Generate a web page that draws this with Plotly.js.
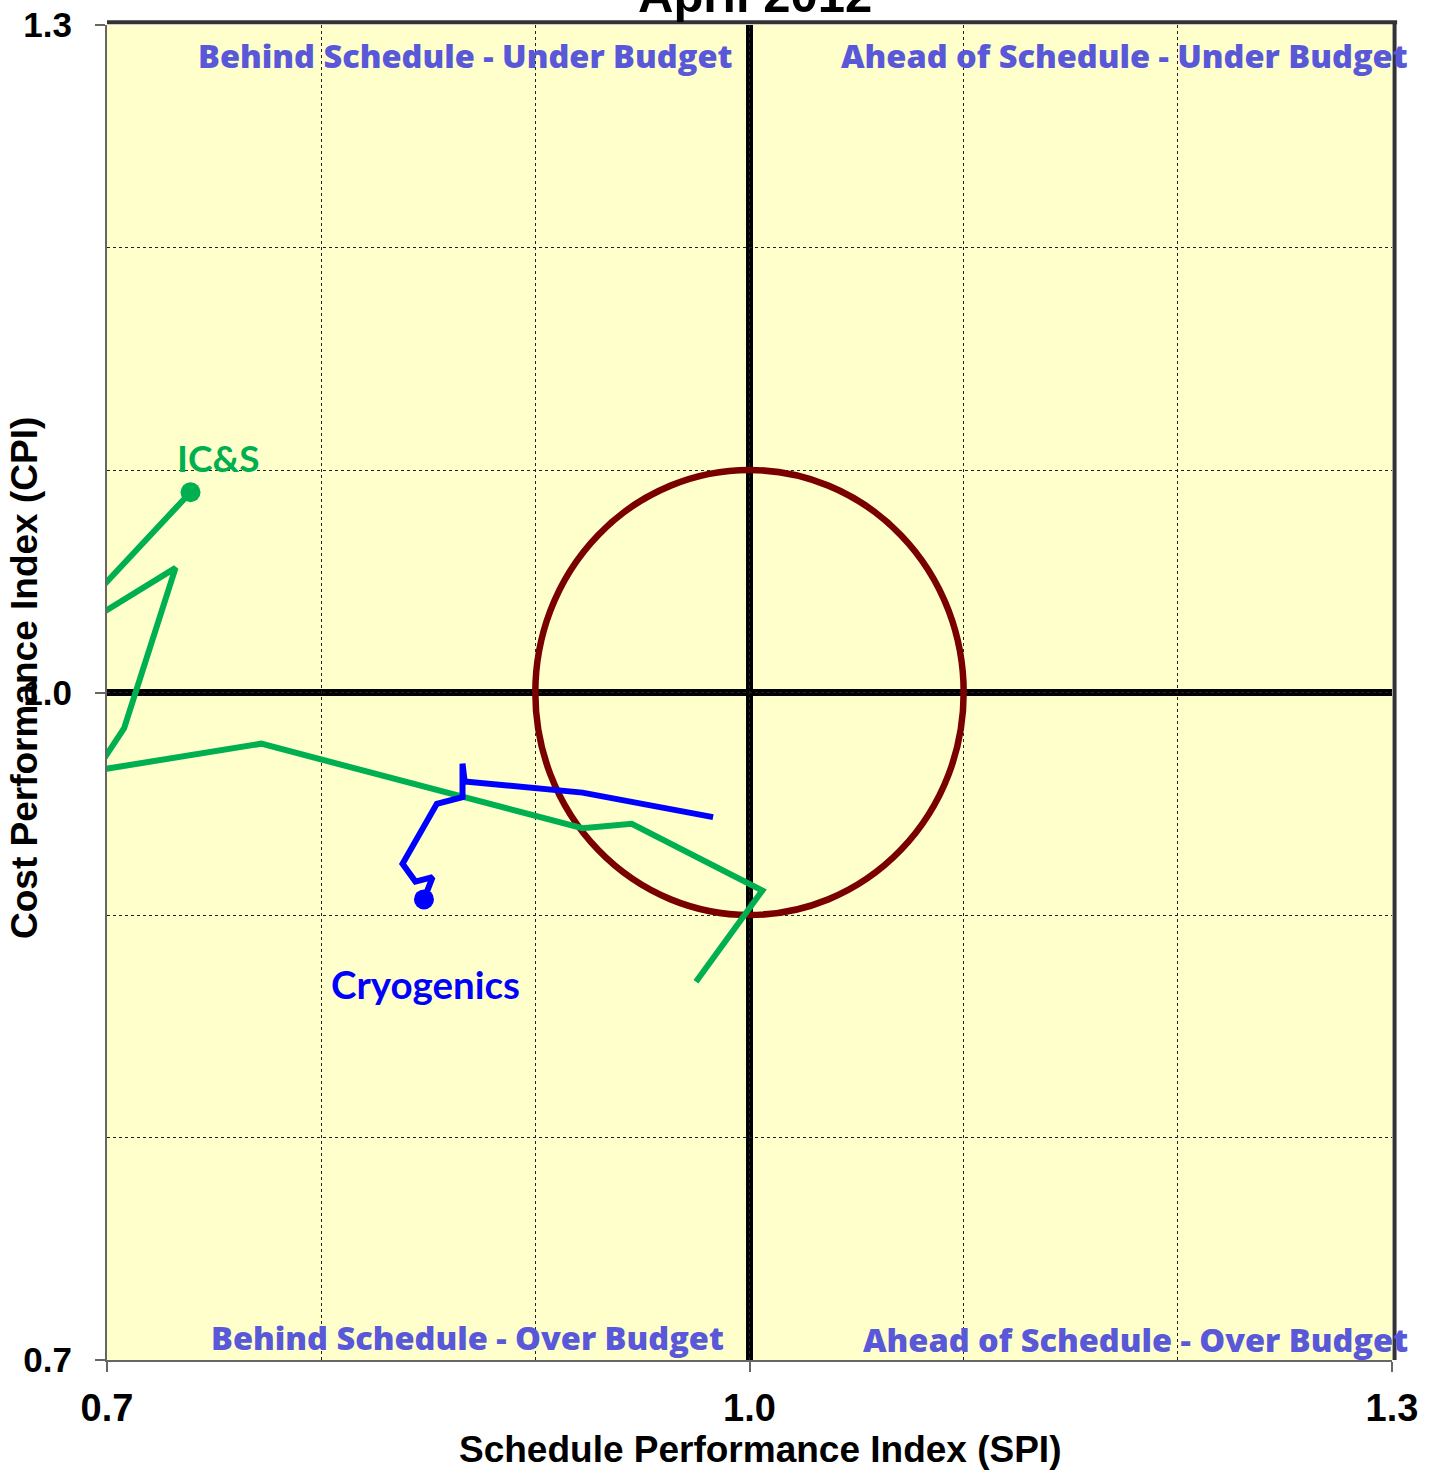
<!DOCTYPE html>
<html>
<head>
<meta charset="utf-8">
<script src="https://cdn.plot.ly/plotly-3.0.1.min.js"></script>
<style>html,body{margin:0;padding:0;background:#fff;}#chart{width:1432px;height:1474px;}</style>
</head>
<body>
<div id="chart"></div>
<script>
// IC&S series (SPI, CPI), oldest to latest
const icsSPI = [0.975, 1.006, 0.945, 0.922, 0.772, 0.695, 0.708, 0.732, 0.671, 0.739];
const icsCPI = [0.870, 0.911, 0.941, 0.939, 0.977, 0.965, 0.984, 1.056, 1.020, 1.090];
// Cryogenics series (SPI, CPI), oldest to latest
const cryoSPI = [0.983, 0.922, 0.867, 0.866, 0.866, 0.854, 0.838, 0.844, 0.852, 0.848];
const cryoCPI = [0.944, 0.955, 0.960, 0.968, 0.953, 0.950, 0.923, 0.915, 0.917, 0.907];
const seriesNames = ["IC&S", "Cryogenics"];
const tickVals = [0.7, 1.0, 1.3];
const tickText = ["0.7", "1.0", "1.3"];
const quadrantLabels = ["Behind Schedule - Under Budget", "Ahead of Schedule - Under Budget",
                        "Behind Schedule - Over Budget", "Ahead of Schedule - Over Budget"];
const chartTitle = "April 2012";
const xTitle = "Schedule Performance Index (SPI)";
const yTitle = "Cost Performance Index (CPI)";

const GREEN = "#00B050", BLUE = "#0000FF", MAROON = "#7A0000", QCOL = "#5858D8";
const FAM = "Liberation Sans, Arial, sans-serif";

const traces = [
  {x: icsSPI, y: icsCPI, mode: "lines", line: {color: GREEN, width: 6}, name: seriesNames[0]},
  {x: icsSPI.slice(-1), y: icsCPI.slice(-1), mode: "markers", marker: {color: GREEN, size: 20}, showlegend: false},
  {x: cryoSPI, y: cryoCPI, mode: "lines", line: {color: BLUE, width: 6}, name: seriesNames[1]},
  {x: cryoSPI.slice(-1), y: cryoCPI.slice(-1), mode: "markers", marker: {color: BLUE, size: 20}, showlegend: false}
];

function axis(fs) {
  return {
    range: [0.7, 1.3], tickvals: tickVals, ticktext: tickText, ticks: "outside",
    ticklen: 10, tickwidth: 2, tickcolor: "#666",
    tickfont: {family: FAM, size: fs, color: "#000", weight: "bold"},
    showgrid: true, gridcolor: "#222", griddash: "dot", gridwidth: 1,
    minor: {dtick: 0.1, tick0: 0.7, showgrid: true, gridcolor: "#222", griddash: "dot", gridwidth: 1, ticks: ""},
    showline: true, linecolor: "#666", linewidth: 2, zeroline: false, fixedrange: true
  };
}
const xa = axis(38); xa.ticklabelstandoff = 3;
const ya = axis(35); ya.ticklabelstandoff = 16;

const qfont = {family: "Open Sans, sans-serif", size: 32.5, color: QCOL, weight: 800};
const annotations = [
  {text: quadrantLabels[0], x: 0.2786, y: 0.9775, font: qfont},
  {text: quadrantLabels[1], x: 0.7922, y: 0.9775, font: qfont},
  {text: quadrantLabels[2], x: 0.2809, y: 0.0172, font: qfont},
  {text: quadrantLabels[3], x: 0.8000, y: 0.0157, font: qfont},
  {text: seriesNames[0], x: 0.0864, y: 0.6757, font: {family: "Lato, sans-serif", size: 37, color: GREEN, weight: "bold"}},
  {text: seriesNames[1], x: 0.2482, y: 0.2816, font: {family: "Lato, sans-serif", size: 38.5, color: BLUE, weight: "bold"}},
  {text: yTitle, x: -0.0638, y: 0.5109, textangle: -90, font: {family: FAM, size: 37, color: "#000", weight: "bold"}},
  {text: xTitle, x: 0.5082, y: -0.0674, font: {family: FAM, size: 37, color: "#000", weight: "bold"}},
  {text: chartTitle, x: 0.504, y: 1.0225, font: {family: FAM, size: 49, color: "#000", weight: "bold"}}
].map(a => Object.assign({xref: "paper", yref: "paper", showarrow: false, xanchor: "center", yanchor: "middle"}, a));

const shapes = [
  {type: "circle", xref: "x", yref: "y", x0: 0.9, x1: 1.1, y0: 0.9, y1: 1.1, line: {color: MAROON, width: 6.5}, layer: "between"},
  {type: "line", xref: "x", yref: "paper", x0: 1.0, x1: 1.0, y0: 0, y1: 1, line: {color: "#000", width: 7}, layer: "between"},
  {type: "line", xref: "paper", yref: "y", x0: 0, x1: 1, y0: 1.0, y1: 1.0, line: {color: "#000", width: 7}, layer: "between"},
  {type: "line", xref: "paper", yref: "paper", x0: 0, x1: 1.004, y0: 1.002, y1: 1.002, line: {color: "#333", width: 4}, layer: "above"},
  {type: "line", xref: "paper", yref: "paper", x0: 1.002, x1: 1.002, y0: 0, y1: 1.003, line: {color: "#333", width: 4}, layer: "above"}
];

const layout = {
  width: 1432, height: 1474,
  margin: {l: 107, r: 40, t: 25, b: 114},
  paper_bgcolor: "#FFFFFF", plot_bgcolor: "#FFFFCC",
  showlegend: false,
  xaxis: xa, yaxis: ya,
  annotations: annotations, shapes: shapes
};

Plotly.newPlot("chart", traces, layout, {displayModeBar: false, staticPlot: true});
</script>
</body>
</html>
